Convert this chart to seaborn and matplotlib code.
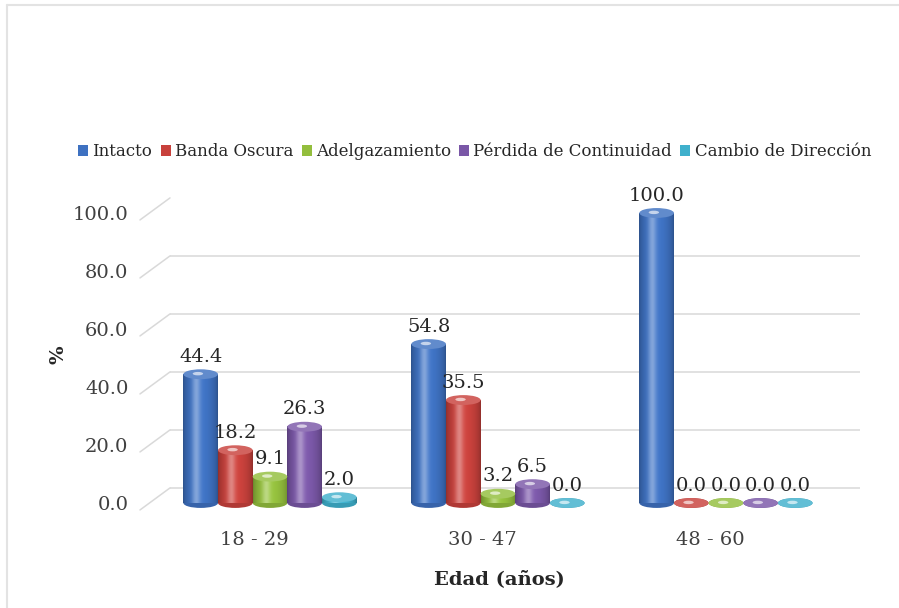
import numpy as np
import pandas as pd
import matplotlib
matplotlib.use("Agg")
import matplotlib.pyplot as plt
import matplotlib.colors as mcolors
from matplotlib.patches import Ellipse
from matplotlib.lines import Line2D
from matplotlib.transforms import ScaledTranslation
import seaborn as sns

# ---------------- data ----------------
categories = ["18 - 29", "30 - 47", "48 - 60"]
series = ["Intacto", "Banda Oscura", "Adelgazamiento",
          "Pérdida de Continuidad", "Cambio de Dirección"]
intacto = [44.4, 54.8, 100.0]
banda_oscura = [18.2, 35.5, 0.0]
adelgazamiento = [9.1, 3.2, 0.0]
perdida_continuidad = [26.3, 6.5, 0.0]
cambio_direccion = [2.0, 0.0, 0.0]
y_ticks = [0, 20, 40, 60, 80, 100]
x_label = "Edad (años)"
y_label = "%"

colors = ["#3E71C1", "#C8413C", "#93BE3D", "#7A57A7", "#3FB0CC"]

values = [intacto, banda_oscura, adelgazamiento, perdida_continuidad, cambio_direccion]
rows = []
for s, vals in zip(series, values):
    for c, v in zip(categories, vals):
        rows.append({"Edad": c, "Serie": s, "Valor": v})
df = pd.DataFrame(rows)

# ---------------- style ----------------
sns.set_theme(style="white")
plt.rcParams["font.family"] = ["DejaVu Serif", "DejaVu Sans"]

fig = plt.figure(figsize=(8.99, 6.08), dpi=100)
fig.patch.set_facecolor("white")
ax = fig.add_axes([0.1891, 0.1727, 0.7675, 0.477])

sns.barplot(data=df, x="Edad", y="Valor", hue="Serie", order=categories,
            hue_order=series, palette=colors, width=0.76, saturation=1,
            errorbar=None, edgecolor="none", linewidth=0, ax=ax)

ax.set_ylim(0, 100)
ax.set_xlim(-0.4386, 2.588)

# cylinder shading
def lighten(c, amt):
    c = np.array(mcolors.to_rgb(c))
    return tuple(c + (1 - c) * amt)

def darken(c, amt):
    c = np.array(mcolors.to_rgb(c))
    return tuple(c * (1 - amt))

cap_h = 3.4
for j, cont in enumerate(ax.containers):
    base = np.array(mcolors.to_rgb(colors[j]))
    t = np.linspace(0, 1, 64)
    shade = 0.72 + 0.32 * np.sin(np.pi * t) ** 0.6
    grad = np.clip(base[None, :] * shade[:, None], 0, 1)
    hl = 0.35 * np.exp(-((t - 0.38) / 0.12) ** 2)
    grad = grad + (1 - grad) * hl[:, None]
    img = grad[None, :, :]
    for bar in cont:
        x0, w, h = bar.get_x(), bar.get_width(), bar.get_height()
        xc = x0 + w / 2
        # bottom rounding
        ax.add_patch(Ellipse((xc, 0), w, cap_h, facecolor=darken(colors[j], 0.12),
                             edgecolor="none", zorder=2, clip_on=False))
        if h > 0:
            ax.imshow(img, extent=(x0, x0 + w, 0, h), aspect="auto",
                      zorder=3, interpolation="bilinear")
        ax.add_patch(Ellipse((xc, h), w, cap_h, facecolor=lighten(colors[j], 0.18),
                             edgecolor="none", zorder=4, clip_on=False))
        ax.add_patch(Ellipse((xc - w * 0.08, h + 0.2), w * 0.3, cap_h * 0.35,
                             facecolor=lighten(colors[j], 0.7), edgecolor="none",
                             zorder=5, clip_on=False))
    ax.bar_label(cont, labels=[f"{v:.1f}" for v in cont.datavalues],
                 padding=6, fontsize=14, color="#262626", zorder=6)

ax.set_xlim(-0.4386, 2.588)
ax.set_ylim(0, 100)

# back-wall gridlines (offset upward) + side slants
ax.set_yticks(y_ticks)
ax.set_yticklabels([f"{v:.1f}" for v in y_ticks])
off = ScaledTranslation(0, 15 / 100, fig.dpi_scale_trans)
for yv in y_ticks:
    ln = ax.axhline(yv, color="#D9D9D9", lw=1.1, zorder=0.5)
    ln.set_transform(ln.get_transform() + off)
    ax.plot([-0.0435, 0], [yv - 2.4, yv + 5.2], transform=ax.get_yaxis_transform(),
            color="#D9D9D9", lw=1.1, clip_on=False, zorder=0.5)

for sp in ax.spines.values():
    sp.set_visible(False)

ax.set_xticks([i - 0.07 for i in range(len(categories))])
ax.set_xticklabels(categories)
ax.tick_params(axis="y", length=0, pad=30, labelsize=14, labelcolor="#404040")
ax.tick_params(axis="x", length=0, pad=20, labelsize=14, labelcolor="#404040")

ax.set_xlabel(x_label, fontsize=14, fontweight="bold", color="#262626")
ax.xaxis.set_label_coords(0.478, -0.231)
ax.set_ylabel(y_label, fontsize=14, fontweight="bold", color="#262626")
ax.yaxis.set_label_coords(-0.148, 0.51)

# legend
handles, labels = ax.get_legend_handles_labels()
if ax.get_legend() is not None:
    ax.get_legend().remove()
fig.legend(handles, labels, loc="center", bbox_to_anchor=(0.528, 0.75), ncol=5,
           frameon=False, fontsize=12, handlelength=0.6, handleheight=0.6,
           handletextpad=0.25, columnspacing=0.5, labelcolor="#262626")

# faint chart border (top and left)
fig.add_artist(Line2D([0.0078, 0.0078], [0, 0.9918], transform=fig.transFigure,
                      color="#E3E3E3", lw=1.5))
fig.add_artist(Line2D([0.0078, 1], [0.9918, 0.9918], transform=fig.transFigure,
                      color="#E3E3E3", lw=1.5))

fig.savefig("out.png", dpi=100, facecolor="white")
